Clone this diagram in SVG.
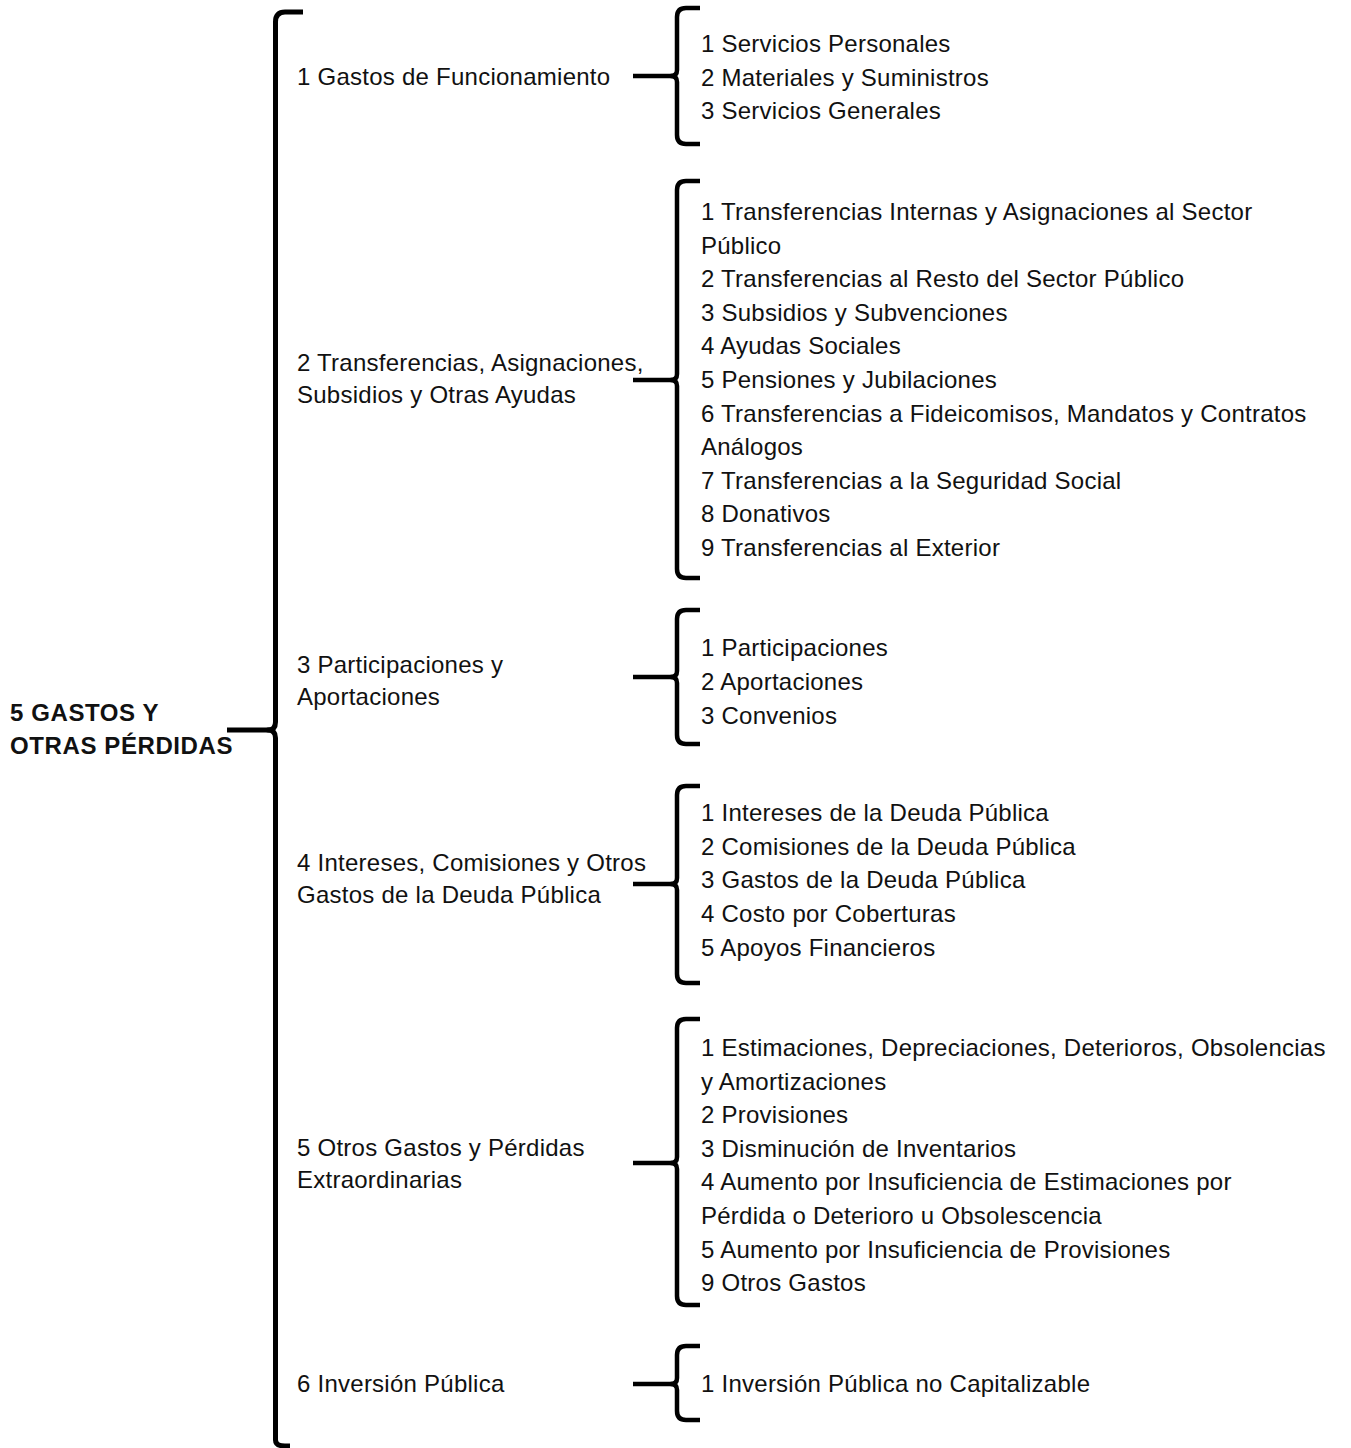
<svg xmlns="http://www.w3.org/2000/svg" width="1351" height="1448" viewBox="0 0 1351 1448">
<style>
text{font-family:"Liberation Sans",Arial,sans-serif;font-size:24px;fill:#111;letter-spacing:0.25px}
.b{font-weight:bold;letter-spacing:0.6px}
.br{fill:none;stroke:#000;stroke-width:4.5;stroke-linecap:butt;stroke-linejoin:round}
.mb{fill:none;stroke:#000;stroke-width:5;stroke-linejoin:round}
</style>
<rect width="1351" height="1448" fill="#fff"/>
<g id="connectors">
<path class="mb" d="M303,12 H285 Q275.5,12 275.5,22 V722 Q275.5,730 268,730 Q275.5,730 275.5,738 V1440 Q275.5,1446 285,1446 H290"/>
<line class="mb" x1="227" y1="730" x2="272" y2="730"/>
<path class="br" d="M700,8 H686 Q677,8 677,17 V70 Q677,76 671,76 Q677,76 677,82 V135 Q677,144 686,144 H700"/>
<line class="br" x1="633" y1="76" x2="674" y2="76"/>
<path class="br" d="M700,181 H686 Q677,181 677,190 V374 Q677,380 671,380 Q677,380 677,386 V569 Q677,578 686,578 H700"/>
<line class="br" x1="633" y1="380" x2="674" y2="380"/>
<path class="br" d="M700,610 H686 Q677,610 677,619 V671 Q677,677 671,677 Q677,677 677,683 V735 Q677,744 686,744 H700"/>
<line class="br" x1="633" y1="677" x2="674" y2="677"/>
<path class="br" d="M700,786 H686 Q677,786 677,795 V878 Q677,884 671,884 Q677,884 677,890 V974 Q677,983 686,983 H700"/>
<line class="br" x1="633" y1="884" x2="674" y2="884"/>
<path class="br" d="M700,1019 H686 Q677,1019 677,1028 V1157 Q677,1163 671,1163 Q677,1163 677,1169 V1296 Q677,1305 686,1305 H700"/>
<line class="br" x1="633" y1="1163" x2="674" y2="1163"/>
<path class="br" d="M700,1346 H686 Q677,1346 677,1355 V1378 Q677,1384 671,1384 Q677,1384 677,1390 V1411 Q677,1420 686,1420 H700"/>
<line class="br" x1="633" y1="1384" x2="674" y2="1384"/>
</g>
<g id="root">
<text class="b" x="10" y="721">5 GASTOS Y</text>
<text class="b" x="10" y="754">OTRAS PÉRDIDAS</text>
</g>
<g id="n1">
<text x="297" y="85">1 Gastos de Funcionamiento</text>
</g>
<g id="n1-items">
<text x="701" y="52">1 Servicios Personales</text>
<text x="701" y="85.6">2 Materiales y Suministros</text>
<text x="701" y="119.2">3 Servicios Generales</text>
</g>
<g id="n2">
<text x="297" y="370.5">2 Transferencias, Asignaciones,</text>
<text x="297" y="403">Subsidios y Otras Ayudas</text>
</g>
<g id="n2-items">
<text x="701" y="220">1 Transferencias Internas y Asignaciones al Sector</text>
<text x="701" y="253.6">Público</text>
<text x="701" y="287.2">2 Transferencias al Resto del Sector Público</text>
<text x="701" y="320.8">3 Subsidios y Subvenciones</text>
<text x="701" y="354.4">4 Ayudas Sociales</text>
<text x="701" y="388">5 Pensiones y Jubilaciones</text>
<text x="701" y="421.6">6 Transferencias a Fideicomisos, Mandatos y Contratos</text>
<text x="701" y="455.2">Análogos</text>
<text x="701" y="488.8">7 Transferencias a la Seguridad Social</text>
<text x="701" y="522.4">8 Donativos</text>
<text x="701" y="556">9 Transferencias al Exterior</text>
</g>
<g id="n3">
<text x="297" y="673">3 Participaciones y</text>
<text x="297" y="705">Aportaciones</text>
</g>
<g id="n3-items">
<text x="701" y="656.4">1 Participaciones</text>
<text x="701" y="690">2 Aportaciones</text>
<text x="701" y="723.6">3 Convenios</text>
</g>
<g id="n4">
<text x="297" y="871">4 Intereses, Comisiones y Otros</text>
<text x="297" y="903">Gastos de la Deuda Pública</text>
</g>
<g id="n4-items">
<text x="701" y="821.2">1 Intereses de la Deuda Pública</text>
<text x="701" y="854.8">2 Comisiones de la Deuda Pública</text>
<text x="701" y="888.4">3 Gastos de la Deuda Pública</text>
<text x="701" y="922">4 Costo por Coberturas</text>
<text x="701" y="955.6">5 Apoyos Financieros</text>
</g>
<g id="n5">
<text x="297" y="1156">5 Otros Gastos y Pérdidas</text>
<text x="297" y="1188">Extraordinarias</text>
</g>
<g id="n5-items">
<text x="701" y="1056">1 Estimaciones, Depreciaciones, Deterioros, Obsolencias</text>
<text x="701" y="1089.6">y Amortizaciones</text>
<text x="701" y="1123.2">2 Provisiones</text>
<text x="701" y="1156.8">3 Disminución de Inventarios</text>
<text x="701" y="1190.4">4 Aumento por Insuficiencia de Estimaciones por</text>
<text x="701" y="1224">Pérdida o Deterioro u Obsolescencia</text>
<text x="701" y="1257.6">5 Aumento por Insuficiencia de Provisiones</text>
<text x="701" y="1291.2">9 Otros Gastos</text>
</g>
<g id="n6">
<text x="297" y="1392">6 Inversión Pública</text>
</g>
<g id="n6-items">
<text x="701" y="1392">1 Inversión Pública no Capitalizable</text>
</g>
</svg>
